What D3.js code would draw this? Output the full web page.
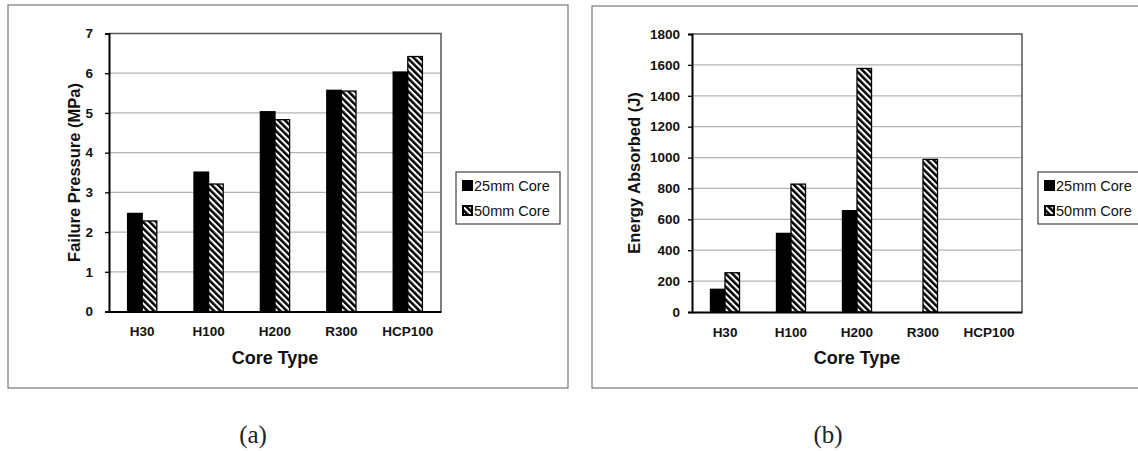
<!DOCTYPE html>
<html><head><meta charset="utf-8">
<script src="https://cdn.jsdelivr.net/npm/d3@7"></script>
<style>
html,body{margin:0;padding:0;background:#fff;overflow:hidden;}
svg{display:block;}
</style>
</head><body>
<svg id="chart" width="1138" height="451"></svg>
<script>
// ---- data ----
const categories = ["H30", "H100", "H200", "R300", "HCP100"];
const seriesNames = ["25mm Core", "50mm Core"];
const pressure25 = [2.47, 3.51, 5.03, 5.57, 6.03];
const pressure50 = [2.28, 3.21, 4.83, 5.55, 6.42];
const energy25 = [147, 509, 656, null, null];
const energy50 = [254, 828, 1577, 988, null];
const pressureTicks = [0, 1, 2, 3, 4, 5, 6, 7];
const energyTicks = [0, 200, 400, 600, 800, 1000, 1200, 1400, 1600, 1800];
const captions = ["(a)", "(b)"];
const yTitles = ["Failure Pressure (MPa)", "Energy Absorbed (J)"];
const xTitle = "Core Type";

const svg = d3.select("#chart");
const defs = svg.append("defs");
const pat = defs.append("pattern")
  .attr("id", "hatch").attr("patternUnits", "userSpaceOnUse")
  .attr("width", 4.6).attr("height", 4.6)
  .attr("patternTransform", "rotate(-45)");
pat.append("rect").attr("width", 4.6).attr("height", 4.6).attr("fill", "#fff");
pat.append("rect").attr("width", 2.5).attr("height", 4.6).attr("fill", "#000");

const FONT = "Liberation Sans, Arial, sans-serif";

function panel(cfg) {
  const g = svg.append("g");
  // outer frame
  g.append("rect").attr("x", cfg.frame[0]).attr("y", cfg.frame[1])
    .attr("width", cfg.frame[2]).attr("height", cfg.frame[3])
    .attr("fill", "none").attr("stroke", "#777").attr("stroke-width", 1.2);

  const x = d3.scaleBand().domain(categories).range([cfg.px0, cfg.px1])
    .paddingInner(0.56).paddingOuter(0.28);
  const xs = d3.scaleBand().domain(seriesNames).range([0, x.bandwidth()]);
  const y = d3.scaleLinear().domain([cfg.ticks[0], cfg.ticks[cfg.ticks.length - 1]])
    .range([cfg.py1, cfg.py0]);

  // gridlines
  g.append("g").selectAll("line").data(cfg.ticks.slice(1, -1)).join("line")
    .attr("x1", cfg.px0).attr("x2", cfg.px1)
    .attr("y1", d => y(d)).attr("y2", d => y(d))
    .attr("stroke", "#b4b4b4").attr("stroke-width", 1.2);

  // plot border (top/right)
  g.append("path")
    .attr("d", `M${cfg.px0},${cfg.py0}H${cfg.px1}V${cfg.py1}`)
    .attr("fill", "none").attr("stroke", "#555").attr("stroke-width", 1.5);

  // bars
  const rows = categories.map((c, i) => ({c, vals: [cfg.s1[i], cfg.s2[i]]}));
  const grp = g.append("g").selectAll("g").data(rows).join("g")
    .attr("transform", d => `translate(${x(d.c)},0)`);
  grp.selectAll("rect").data(d => d.vals.map((v, j) => ({v, s: seriesNames[j], j})).filter(e => e.v != null))
    .join("rect")
    .attr("x", e => xs(e.s)).attr("width", xs.bandwidth())
    .attr("y", e => y(e.v)).attr("height", e => y(0) - y(e.v))
    .attr("fill", e => e.j === 0 ? "#000" : "url(#hatch)")
    .attr("stroke", "#000").attr("stroke-width", 1.3);

  // y axis
  const ya = g.append("g").attr("transform", `translate(${cfg.px0},0)`)
    .call(d3.axisLeft(y).tickValues(cfg.ticks).tickSize(4).tickPadding(cfg.tickPad).tickFormat(d3.format("d")));
  ya.select(".domain").attr("stroke", "#000").attr("stroke-width", 2);
  ya.selectAll(".tick line").attr("stroke", "#000").attr("stroke-width", 1.3);
  ya.selectAll("text").attr("font-family", FONT).attr("font-weight", "bold")
    .attr("font-size", 13.5).attr("fill", "#111");

  // x axis
  const xa = g.append("g").attr("transform", `translate(0,${cfg.py1})`)
    .call(d3.axisBottom(x).tickSize(0).tickPadding(15));
  xa.select(".domain").attr("stroke", "#000").attr("stroke-width", 2);
  xa.selectAll("text").attr("font-family", FONT).attr("font-weight", "bold")
    .attr("font-size", 13.5).attr("fill", "#111");

  // titles
  g.append("text").attr("transform", `translate(${cfg.ytx},${(cfg.py0 + cfg.py1) / 2}) rotate(-90)`)
    .attr("text-anchor", "middle").attr("dy", "0.35em")
    .attr("font-family", FONT).attr("font-weight", "bold").attr("font-size", 16.5).attr("fill", "#111")
    .text(cfg.ytitle);
  g.append("text").attr("x", (cfg.px0 + cfg.px1) / 2).attr("y", 364)
    .attr("text-anchor", "middle")
    .attr("font-family", FONT).attr("font-weight", "bold").attr("font-size", 18).attr("fill", "#111")
    .text(xTitle);

  // legend
  const lg = g.append("g").attr("transform", `translate(${cfg.leg[0]},${cfg.leg[1]})`);
  lg.append("rect").attr("width", cfg.leg[2]).attr("height", 52)
    .attr("fill", "#fff").attr("stroke", "#444").attr("stroke-width", 1.2);
  seriesNames.forEach((s, j) => {
    lg.append("rect").attr("x", 7).attr("y", 9 + j * 25).attr("width", 9).attr("height", 9)
      .attr("fill", j === 0 ? "#000" : "url(#hatch)").attr("stroke", "#000").attr("stroke-width", 2);
    lg.append("text").attr("x", 18).attr("y", 19 + j * 25)
      .attr("font-family", FONT).attr("font-size", 14.5).attr("fill", "#111").text(s);
  });

  // caption
  svg.append("text").attr("x", cfg.capx).attr("y", 443).attr("text-anchor", "middle")
    .attr("font-family", "Liberation Serif, Times New Roman, serif").attr("font-size", 25)
    .attr("fill", "#222").text(cfg.caption);
}

panel({frame: [8, 5, 560, 383], px0: 109, px1: 441, py0: 33.5, py1: 311.5,
  ticks: pressureTicks, s1: pressure25, s2: pressure50, tickPad: 12,
  ytitle: yTitles[0], ytx: 74, leg: [456, 172, 104], capx: 253, caption: captions[0]});
panel({frame: [592, 6, 560, 382], px0: 692, px1: 1022, py0: 34, py1: 312,
  ticks: energyTicks, s1: energy25, s2: energy50, tickPad: 8,
  ytitle: yTitles[1], ytx: 634, leg: [1038, 172, 110], capx: 828, caption: captions[1]});
</script>
</body></html>
